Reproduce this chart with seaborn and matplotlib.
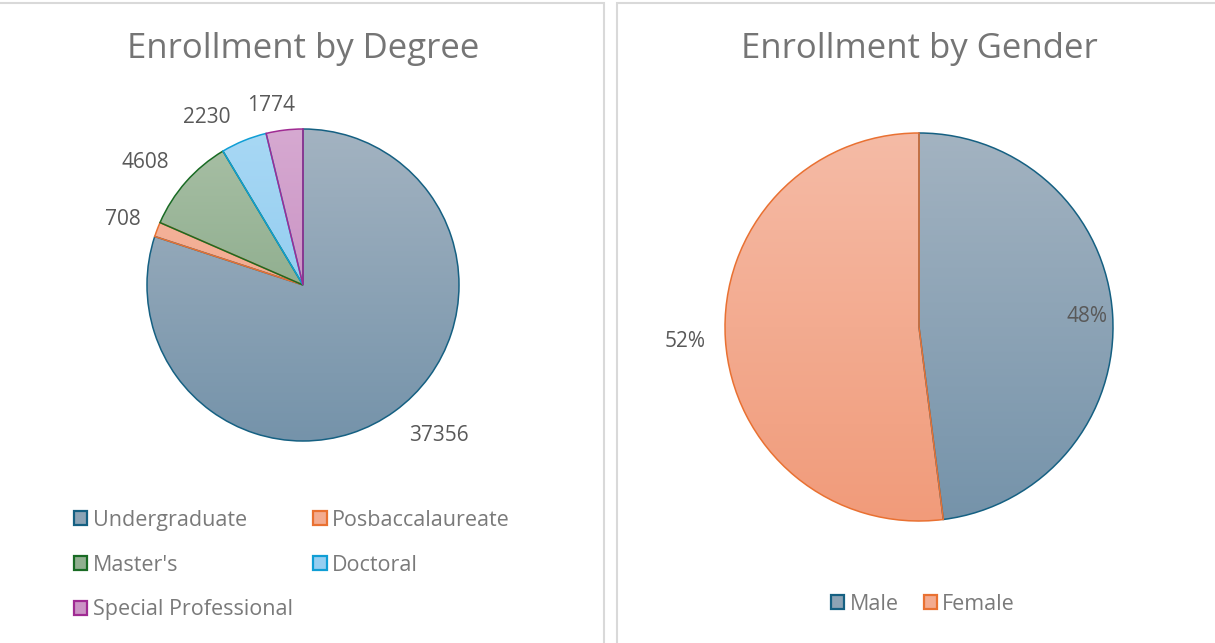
import numpy as np
import matplotlib
matplotlib.use('Agg')
import matplotlib.pyplot as plt
import seaborn as sns
from matplotlib.patches import Rectangle

# ---------------- data ----------------
degree_labels = ['Undergraduate', 'Posbaccalaureate', "Master's", 'Doctoral', 'Special Professional']
degree_values = [37356, 708, 4608, 2230, 1774]

gender_labels = ['Male', 'Female']
gender_pct = [48, 52]

# ---------------- style ----------------
sns.set_theme(style='white')
plt.rcParams['font.family'] = ['Open Sans', 'DejaVu Sans']

edge_cols = ['#156082', '#E97132', '#196B24', '#0F9ED5', '#A02B93']
top_cols = ['#A3B3C1', '#F5BBA6', '#A9C0A6', '#A8D8F4', '#D6A9D1']
bot_cols = ['#7593AA', '#F19B7A', '#7A9F7B', '#82C4EE', '#C080B9']
title_col = '#757575'
label_col = '#595959'

W, H = 1215, 643
fig = plt.figure(figsize=(W / 100, H / 100), dpi=100)
fig.patch.set_facecolor('white')

# panel borders
fig.patches.append(Rectangle((-5 / W, -5 / H), 609 / W, (H - 3 + 5) / H, transform=fig.transFigure,
                             fill=False, edgecolor='#D9D9D9', linewidth=1.5))
fig.patches.append(Rectangle((617 / W, -5 / H), (W - 617 + 5) / W, (H - 3 + 5) / H, transform=fig.transFigure,
                             fill=False, edgecolor='#D9D9D9', linewidth=1.5))


def pie_axes(cx, cy, r):
    return fig.add_axes([(cx - r) / W, (H - cy - r) / H, 2 * r / W, 2 * r / H])


def gradient_pie(ax, values, label_fmt, dists, nudges):
    wedges, _ = ax.pie(values, startangle=90, counterclock=False, radius=1)
    grad = np.linspace(0, 1, 256).reshape(-1, 1)
    for i, w in enumerate(wedges):
        cmap = sns.blend_palette([top_cols[i], bot_cols[i]], as_cmap=True)
        im = ax.imshow(grad, extent=[-1, 1, -1, 1], cmap=cmap, aspect='auto', zorder=1, origin='upper')
        im.set_clip_path(w)
        w.set_facecolor('none')
        w.set_edgecolor(edge_cols[i])
        w.set_linewidth(1.1)
        w.set_zorder(2)
    total = sum(values)
    cum = 0
    for i, v in enumerate(values):
        mid = (cum + v / 2) / total * 2 * np.pi + np.radians(nudges[i])
        cum += v
        x = dists[i] * np.sin(mid)
        y = dists[i] * np.cos(mid)
        ax.text(x, y, label_fmt(v), ha='center', va='center', fontsize=15, color=label_col, zorder=3)
    ax.set_xlim(-1, 1)
    ax.set_ylim(-1, 1)
    ax.set_aspect('equal')
    ax.axis('off')
    return wedges


def legend_handles(idx):
    return [Rectangle((0, 0), 1, 1, facecolor=sns.blend_palette([top_cols[i], bot_cols[i]], 3)[1],
                      edgecolor=edge_cols[i], linewidth=1.6) for i in idx]


# ---------------- left: by degree ----------------
ax1 = pie_axes(303, 285, 156)
gradient_pie(ax1, degree_values, lambda v: f'{v}',
             [1.30, 1.23, 1.28, 1.24, 1.17], [-6, -1, -3.5, -7.7, -3.1])
fig.text(303 / W, 1 - 58 / H, 'Enrollment by Degree', ha='center', va='baseline', fontsize=25, color=title_col)
order = [0, 2, 4, 1, 3]  # row-wise order in a 2 column legend
fig.legend(legend_handles(order), [degree_labels[i] for i in order], loc='upper left',
           bbox_to_anchor=(74 / W, 1 - 510 / H), borderaxespad=0, borderpad=0,
           ncol=2, frameon=False, fontsize=15.5, labelcolor='#7A7A7A', handlelength=0.62, handleheight=0.62,
           handletextpad=0.25, columnspacing=0.95, labelspacing=1.1)

# ---------------- right: by gender ----------------
ax2 = pie_axes(919, 327, 194)
gradient_pie(ax2, gender_pct, lambda v: f'{v}%', [0.87, 1.21], [0, 0])
fig.text(919 / W, 1 - 58 / H, 'Enrollment by Gender', ha='center', va='baseline', fontsize=25, color=title_col)
fig.legend(legend_handles([0, 1]), gender_labels, loc='center', bbox_to_anchor=(923 / W, 1 - 604 / H),
           borderaxespad=0, borderpad=0,
           ncol=2, frameon=False, fontsize=15.5, labelcolor='#7A7A7A', handlelength=0.62, handleheight=0.62,
           handletextpad=0.25, columnspacing=1.15)

fig.savefig('out.png', dpi=100, facecolor='white')
